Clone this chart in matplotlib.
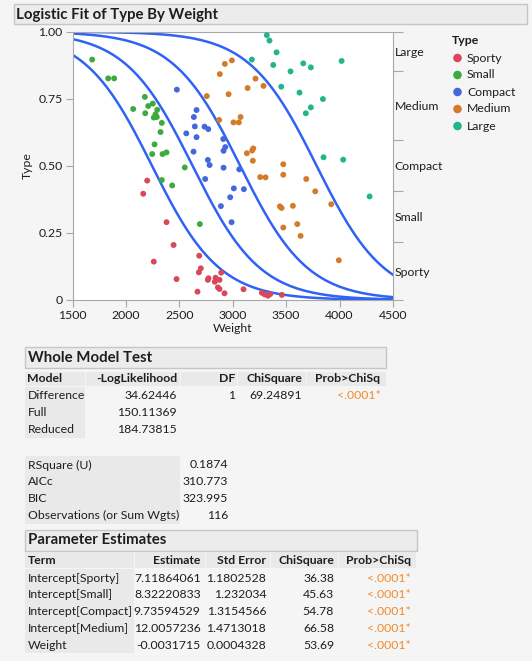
import numpy as np
import matplotlib
matplotlib.use("Agg")
import matplotlib.pyplot as plt
from matplotlib.patches import Rectangle

plt.rcParams['font.family'] = ['Lato', 'DejaVu Sans']

# ---- data ----
types = ["Sporty", "Small", "Compact", "Medium", "Large"]
colors = ["#D8485A", "#3DAA3D", "#4468DC", "#D47B2A", "#22B58C"]

sporty_w = [2199, 2162, 2380, 2446, 2261, 2474, 2686, 2701, 2683, 2670, 2767, 2773, 2839,
            2832, 2876, 2892, 2861, 2876, 2923, 3101, 3273, 3298, 3329, 3351, 3460]
sporty_y = [0.445, 0.396, 0.290, 0.205, 0.143, 0.078, 0.165, 0.118, 0.103, 0.031, 0.075, 0.081, 0.083,
            0.068, 0.075, 0.102, 0.047, 0.041, 0.025, 0.040, 0.027, 0.021, 0.016, 0.022, 0.019]
small_w = [1684, 1834, 1890, 2177, 2068, 2252, 2209, 2181, 2293, 2277, 2261, 2289, 2336,
           2324, 2268, 2246, 2343, 2380, 2551, 2336, 2433, 2692]
small_y = [0.896, 0.826, 0.826, 0.757, 0.712, 0.732, 0.723, 0.696, 0.709, 0.692, 0.680, 0.682, 0.660,
           0.626, 0.580, 0.544, 0.544, 0.550, 0.494, 0.447, 0.427, 0.283]
compact_w = [2477, 2661, 2636, 2645, 2736, 2771, 2565, 2661, 2911, 2930, 2914, 2633, 2767,
             2783, 2914, 3061, 3010, 3104, 2976, 2989, 2742, 2889]
compact_y = [0.784, 0.708, 0.682, 0.647, 0.646, 0.637, 0.621, 0.607, 0.600, 0.570, 0.556, 0.553, 0.522,
             0.503, 0.493, 0.487, 0.416, 0.413, 0.383, 0.290, 0.451, 0.350]
medium_w = [2926, 2879, 2757, 2961, 2873, 2992, 3213, 3139, 3288, 3073, 3007, 3057, 3192, 3182, 3132,
            3188, 3473, 3257, 3307, 3473, 3688, 3772, 3441, 3457, 3563, 3922, 3473, 3604, 3635, 3993]
medium_y = [0.880, 0.842, 0.760, 0.767, 0.671, 0.893, 0.825, 0.790, 0.798, 0.682, 0.662, 0.662, 0.565, 0.557, 0.547,
            0.519, 0.506, 0.458, 0.457, 0.467, 0.451, 0.405, 0.349, 0.343, 0.351, 0.357, 0.270, 0.283, 0.239, 0.148]
large_w = [3319, 3344, 3410, 3179, 3379, 3660, 3731, 4019, 3541, 3454, 3625, 3844, 3731, 3684, 3850, 4034, 4281]
large_y = [0.987, 0.967, 0.923, 0.896, 0.876, 0.882, 0.867, 0.891, 0.852, 0.795, 0.773, 0.749, 0.718, 0.696,
           0.532, 0.523, 0.386]

intercepts = [7.11864061, 8.32220833, 9.73594529, 12.0057236]
slope = -0.0031715

wmt_cols = ["Model", "-LogLikelihood", "DF", "ChiSquare", "Prob>ChiSq"]
wmt_rows = [["Difference", "34.62446", "1", "69.24891", "<.0001*"],
            ["Full", "150.11369", "", "", ""],
            ["Reduced", "184.73815", "", "", ""]]
fit_labels = ["RSquare (U)", "AICc", "BIC", "Observations (or Sum Wgts)"]
fit_values = ["0.1874", "310.773", "323.995", "116"]
pe_cols = ["Term", "Estimate", "Std Error", "ChiSquare", "Prob>ChiSq"]
pe_rows = [["Intercept[Sporty]", "7.11864061", "1.1802528", "36.38", "<.0001*"],
           ["Intercept[Small]", "8.32220833", "1.232034", "45.63", "<.0001*"],
           ["Intercept[Compact]", "9.73594529", "1.3154566", "54.78", "<.0001*"],
           ["Intercept[Medium]", "12.0057236", "1.4713018", "66.58", "<.0001*"],
           ["Weight", "-0.0031715", "0.0004328", "53.69", "<.0001*"]]

W, H = 532, 661
BG = "#f5f5f5"
CELL = "#e9e9e9"
BOX = "#ececec"
EDGE = "#c6c6c6"
TXT = "#1e1e1e"
ORANGE = "#F28A2E"
FS = 8.8
TFS = 10.8

fig = plt.figure(figsize=(W / 100, H / 100), dpi=100, facecolor=BG)

# overlay in pixel coordinates for boxes/tables
ov = fig.add_axes([0, 0, 1, 1], zorder=0)
ov.set_xlim(0, W)
ov.set_ylim(H, 0)
ov.axis('off')


def box(x0, x1, y0, y1, fc, ec=None):
    ov.add_patch(Rectangle((x0, y0), x1 - x0, y1 - y0, facecolor=fc,
                           edgecolor=ec if ec else 'none', lw=1))


def txt(x, y, s, ha='left', bold=False, size=FS, color=TXT):
    ov.text(x, y, s, ha=ha, va='center', fontsize=size, color=color,
            fontweight='bold' if bold else 'normal')


# title box
box(13.5, 527, 4, 24, BOX, EDGE)
txt(15.5, 14.5, "Logistic Fit of Type By Weight", bold=True, size=TFS)

# ---- plot ----
ax = fig.add_axes([72.5 / W, 1 - 300 / H, (393 - 72.5) / W, (300 - 31.7) / H], zorder=2)
ax.set_facecolor('white')
ws = np.linspace(1500, 4500, 300)
for a in intercepts:
    ax.plot(ws, 1 / (1 + np.exp(-(a + slope * ws))), color="#2F62F5", lw=1.8, zorder=2)

groups = [(sporty_w, sporty_y), (small_w, small_y), (compact_w, compact_y),
          (medium_w, medium_y), (large_w, large_y)]
for (gw, gy), c in zip(groups, colors):
    ax.scatter(gw, gy, s=18, color=c, edgecolors='none', zorder=3)

ax.set_xlim(1500, 4500)
ax.set_ylim(0, 1)
ax.set_xticks(range(1500, 4501, 500))
ax.set_yticks([0, 0.25, 0.5, 0.75, 1.0])
ax.set_yticklabels(["0", "0.25", "0.50", "0.75", "1.00"])
ax.set_xlabel("Weight", fontsize=FS, color=TXT, labelpad=2)
ax.set_ylabel("Type", fontsize=FS, color=TXT, labelpad=4)
for sp in ax.spines.values():
    sp.set_color("#a8a8a8")
ax.tick_params(colors="#a8a8a8", labelcolor=TXT, labelsize=FS, length=5, pad=2)

# right axis: category proportions
counts = [len(g[0]) for g in groups]
cum = np.cumsum([0] + counts) / sum(counts)
mids = (cum[:-1] + cum[1:]) / 2
rax = ax.twinx()
rax.set_ylim(0, 1)
rax.set_yticks(cum)
rax.set_yticklabels([])
rax.set_yticks(mids, minor=True)
rax.set_yticklabels(types, minor=True)
rax.tick_params(axis='y', which='major', colors="#a8a8a8", length=7)
rax.tick_params(axis='y', which='minor', length=0, pad=1, labelsize=FS, labelcolor=TXT)
for sp in rax.spines.values():
    sp.set_visible(False)

# legend
txt(452, 41, "Type", bold=True)
for i, (t, c) in enumerate(zip(types, colors)):
    yy = 58 + i * 17
    ov.scatter([457.5], [yy], s=38, color=c, edgecolors='none')
    txt(467, yy, t)

# ---- Whole Model Test ----
box(25.4, 385.6, 347.3, 368.3, BOX, EDGE)
txt(27.5, 358, "Whole Model Test", bold=True, size=TFS)
wmt_x = [(25.4, 85.4), (86.4, 180.3), (181.4, 237.3), (238.4, 306.4), (307.4, 385.6)]
wmt_r = [None, 177.1, 234.8, 302, 380.5]
for (x0, x1) in wmt_x:
    box(x0, x1, 371.7, 385.7, CELL)
for j, h in enumerate(wmt_cols):
    if j == 0:
        txt(27.5, 378.7, h, bold=True)
    else:
        txt(wmt_r[j], 378.7, h, ha='right', bold=True)
box(25.4, 85.4, 386.7, 437.7, CELL)
for i, row in enumerate(wmt_rows):
    yy = 395.7 + i * 17
    for j, v in enumerate(row):
        if j == 0:
            txt(27.5, yy, v)
        elif v:
            txt(wmt_r[j], yy, v, ha='right', color=ORANGE if j == 4 else TXT)

box(25.4, 179.7, 456, 523.7, CELL)
for i, (lab, val) in enumerate(zip(fit_labels, fit_values)):
    yy = 465 + i * 16.9
    txt(27.5, yy, lab)
    txt(227.8, yy, val, ha='right')

# ---- Parameter Estimates ----
box(25.4, 416.7, 530, 551, BOX, EDGE)
txt(27.5, 540.5, "Parameter Estimates", bold=True, size=TFS)
pe_x = [(25.4, 134), (135, 204.6), (206, 269.8), (271, 337.6), (339, 416)]
pe_r = [None, 200.6, 266.2, 334, 411]
for (x0, x1) in pe_x:
    box(x0, x1, 552.3, 568.3, CELL)
for j, h in enumerate(pe_cols):
    if j == 0:
        txt(27.5, 560.3, h, bold=True)
    else:
        txt(pe_r[j], 560.3, h, ha='right', bold=True)
box(25.4, 134, 569.3, 653.3, CELL)
for i, row in enumerate(pe_rows):
    yy = 578 + i * 16.9
    for j, v in enumerate(row):
        if j == 0:
            txt(27.5, yy, v)
        else:
            txt(pe_r[j], yy, v, ha='right', color=ORANGE if j == 4 else TXT)

fig.savefig("out.png", dpi=100, facecolor=BG)
